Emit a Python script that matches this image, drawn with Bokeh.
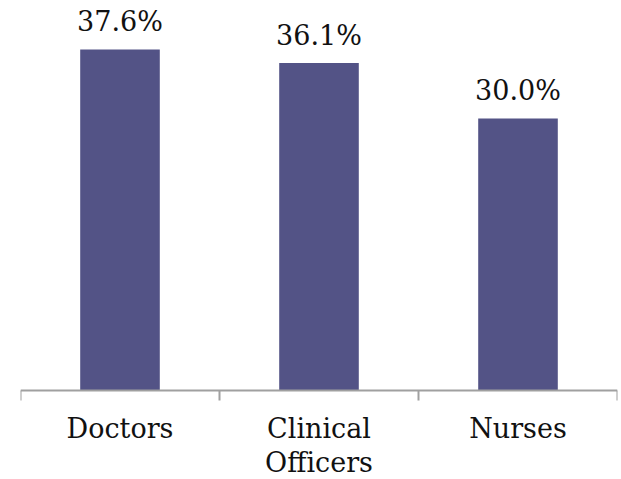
import math
from bokeh.plotting import figure
from bokeh.models import ColumnDataSource, Range1d, Span
from bokeh.core.properties import value
from bokeh.embed import file_html
from bokeh.resources import INLINE

categories = ["Doctors", "Clinical\nOfficers", "Nurses"]
shares = [37.6, 36.1, 30.0]
share_labels = ["37.6%", "36.1%", "30.0%"]

positions = [i + 0.5 for i in range(len(categories))]
boundaries = [float(i) for i in range(len(categories) + 1)]

FONT = "DejaVu Serif"
BAR_COLOR = "#535386"
AXIS_COLOR = "#a0a0a0"
TEXT_COLOR = "#111111"

src = ColumnDataSource(dict(x=positions, top=shares, label=share_labels))
cat_src = ColumnDataSource(dict(x=positions, y=[0] * len(categories), name=categories))
tick_src = ColumnDataSource(dict(x=boundaries, y=[0] * len(boundaries)))

# the frame fills the whole canvas; the baseline sits part-way down
p = figure(width=621, height=479, output_backend="svg", toolbar_location=None,
           x_range=Range1d(0, 3), y_range=Range1d(-9.81, 43.0),
           min_border_left=20, min_border_right=4,
           min_border_top=0, min_border_bottom=0)

p.vbar(x="x", top="top", bottom=0, width=0.4, source=src,
       fill_color=BAR_COLOR, line_color=None)

p.text(x="x", y="top", text="label", source=src,
       text_align="center", text_baseline="alphabetic", y_offset=-28,
       text_font=value(FONT), text_font_size="27px", text_color=TEXT_COLOR)

# category axis: baseline, separators between categories, names below
p.add_layout(Span(location=0, dimension="width", line_color=AXIS_COLOR, line_width=2))
p.ray(x="x", y="y", source=tick_src, length=10, length_units="screen",
      angle=-math.pi / 2, line_color=AXIS_COLOR, line_width=2)
p.text(x="x", y="y", text="name", source=cat_src,
       text_align="center", text_baseline="top", y_offset=22,
       text_font=value(FONT), text_font_size="27px", text_color=TEXT_COLOR,
       text_line_height=1.1)

p.xaxis.visible = False
p.yaxis.visible = False
p.grid.visible = False
p.outline_line_color = None
p.background_fill_color = "white"
p.border_fill_color = "white"

open("out.html", "w").write(file_html(p, INLINE))
